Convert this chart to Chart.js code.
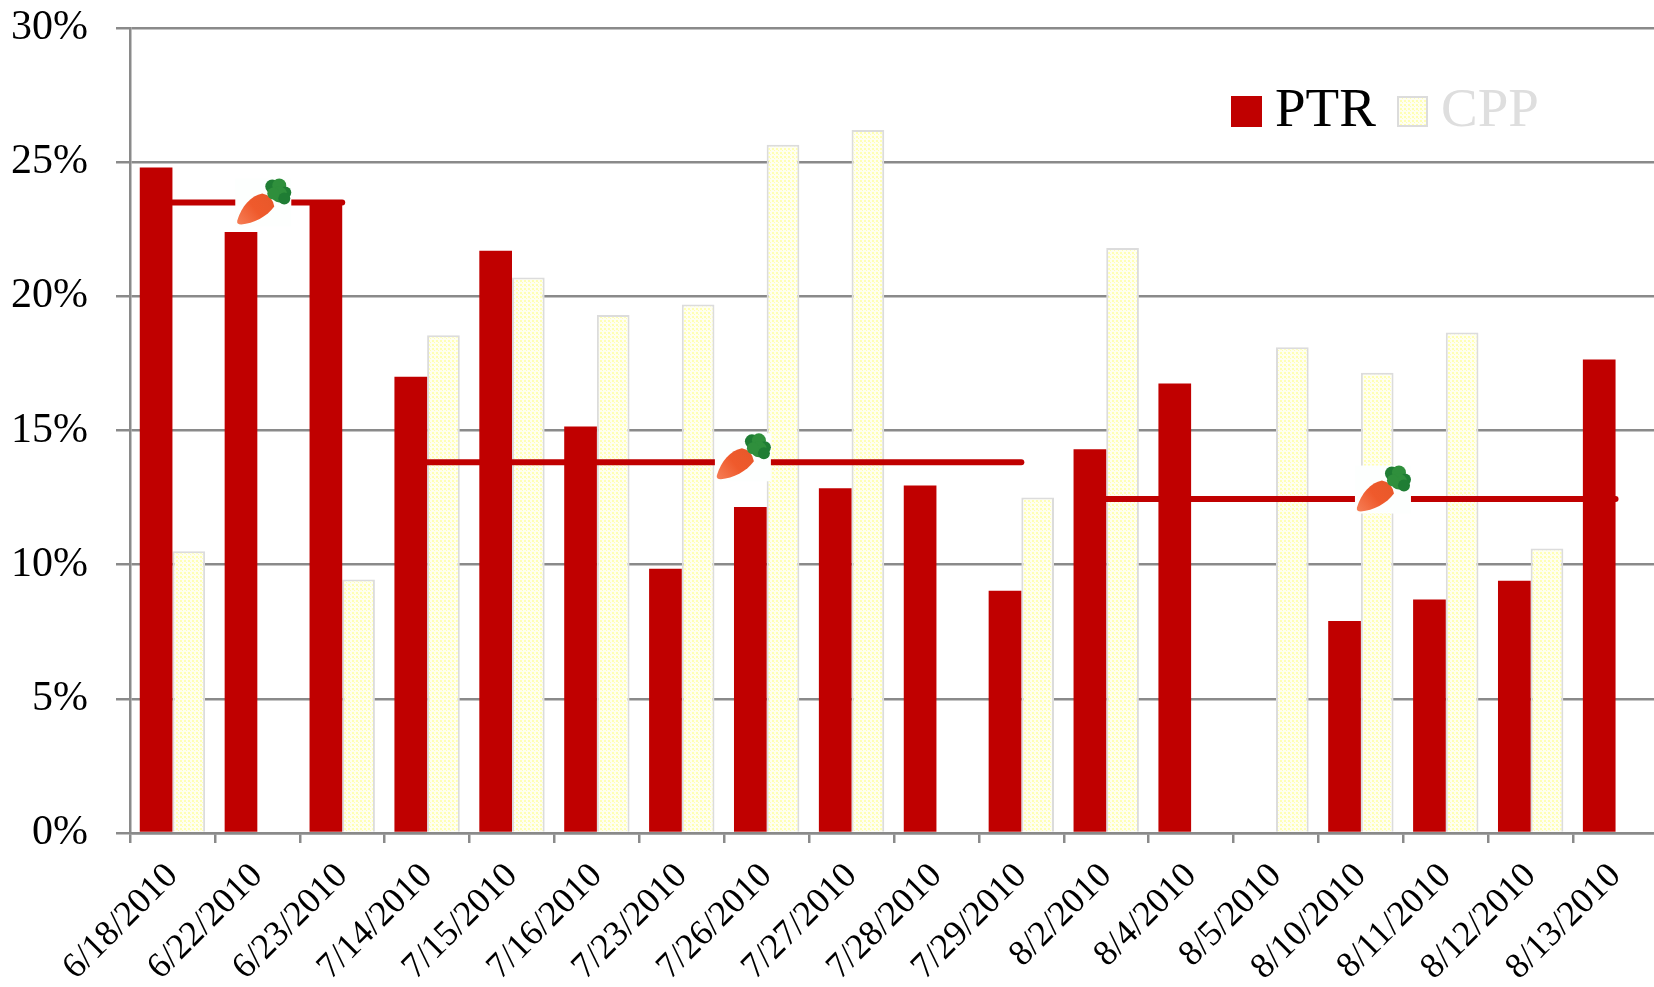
<!DOCTYPE html>
<html>
<head>
<meta charset="utf-8">
<title>PTR CPP</title>
<script src="https://cdn.jsdelivr.net/npm/chart.js@4/dist/chart.umd.min.js"></script>
<style>
	html, body { margin: 0; padding: 0; background: #fff; overflow: hidden; }
	canvas { display: block; }
</style>
</head>
<body>
<canvas id="_canvasc" width="1658" height="987"></canvas>
<script>
	// ******************************************************** DATA

	var dates = ["6/18/2010","6/22/2010","6/23/2010","7/14/2010","7/15/2010","7/16/2010","7/23/2010","7/26/2010","7/27/2010","7/28/2010","7/29/2010","8/2/2010","8/4/2010","8/5/2010","8/10/2010","8/11/2010","8/12/2010","8/13/2010"];
	var ptr = [24.8,22.4,23.4,17.0,21.7,15.15,9.85,12.15,12.85,12.95,9.03,14.3,16.75,null,7.9,8.7,9.4,17.65];
	var cpp = [10.5,null,9.45,18.55,20.7,19.3,19.7,25.65,26.2,null,12.5,21.8,null,18.1,17.15,18.65,10.6,null];
	var avgFirst  = [23.5,23.5,23.5,null,null,null,null,null,null,null,null,null,null,null,null,null,null,null];
	var avgSecond = [null,null,null,13.82,13.82,13.82,13.82,13.82,13.82,13.82,13.82,null,null,null,null,null,null,null];
	var avgThird  = [null,null,null,null,null,null,null,null,null,null,null,12.45,12.45,12.45,12.45,12.45,12.45,12.45];
	var yTicks = [0,5,10,15,20,25,30];

	// carrots sit on the average lines: category position, value
	var carrotCats = [1.07,6.72,14.26];
	var carrotVals = [23.5,14.0,12.8];

	// ******************************************************** STYLE

	var RED = "#c00000";
	var GREY = "#8a8a8a";
	var SERIF = "'Liberation Serif', serif";

	function dotPattern() {
		var t = document.createElement("canvas");
		t.width = 4; t.height = 4;
		var c = t.getContext("2d");
		c.fillStyle = "#fffff0";
		c.fillRect(0, 0, 4, 4);
		c.fillStyle = "#ffffb4";
		c.fillRect(0, 0, 2, 2);
		c.fillRect(2, 2, 1, 1);
		return c.createPattern(t, "repeat");
	}
	var cppFill = dotPattern();

	// ******************************************************** PLUGINS

	function drawCarrot(c, x, y) {
		c.save();
		c.translate(x - 28, y - 24);
		c.fillStyle = "#fdfffe";
		c.fillRect(0, 0, 56, 48);
		var g = c.createLinearGradient(4, 44, 36, 18);
		g.addColorStop(0, "#f57a52");
		g.addColorStop(0.5, "#ef5a2c");
		g.addColorStop(1, "#e8582a");
		c.fillStyle = g;
		c.beginPath();
		c.moveTo(2, 42);
		c.bezierCurveTo(6, 28, 16, 17, 27, 15);
		c.quadraticCurveTo(37, 17, 39, 28);
		c.bezierCurveTo(32, 38, 18, 45, 6, 46);
		c.quadraticCurveTo(1, 46, 2, 42);
		c.fill();
		var leaves = [[37,8,7],[44,7,7],[50,14,6],[44,16,8],[49,20,6],[38,15,6]];
		leaves.forEach(function (l, i) {
			c.fillStyle = i % 2 ? "#2f8f3c" : "#1f7d34";
			c.beginPath();
			c.arc(l[0], l[1], l[2], 0, Math.PI * 2);
			c.fill();
		});
		c.restore();
	}

	var carrotPlugin = {
		id: "carrots",
		afterDatasetsDraw: function (chart) {
			var xs = chart.scales.x, ys = chart.scales.y;
			carrotCats.forEach(function (cat, i) {
				drawCarrot(chart.ctx, xs.getPixelForValue(cat), ys.getPixelForValue(carrotVals[i]));
			});
		}
	};

	var legendPlugin = {
		id: "cornerLegend",
		afterDraw: function (chart) {
			var c = chart.ctx;
			var items = [
				{ text: "PTR", x: 1231, fill: RED, line: RED, color: "#000" },
				{ text: "CPP", x: 1397, fill: cppFill, line: "#dcdcdc", color: "#dedede" }
			];
			c.save();
			c.font = "55px " + SERIF;
			c.textBaseline = "alphabetic";
			items.forEach(function (it) {
				c.fillStyle = it.fill;
				c.fillRect(it.x, 96, 31, 31);
				c.strokeStyle = it.line;
				c.lineWidth = 2;
				c.strokeRect(it.x + 1, 97, 29, 29);
				c.fillStyle = it.color;
				c.fillText(it.text, it.x + 44, 126);
			});
			c.restore();
		}
	};

	// ******************************************************** CHART

	var _ctxc = document.getElementById("_canvasc").getContext("2d");

	function lineSet(data) {
		return {
			type: "line", data: data, order: 0,
			borderColor: RED, borderWidth: 6, borderCapStyle: "round",
			pointRadius: 0, spanGaps: false, fill: false
		};
	}

	window.myChart = new Chart(_ctxc, {
		type: "bar",
		data: {
			labels: dates,
			datasets: [
				{ label: "PTR", data: ptr, backgroundColor: RED, order: 1, categoryPercentage: 0.77, barPercentage: 1 },
				{ label: "CPP", data: cpp, backgroundColor: cppFill, borderColor: "#dcdcdc", borderWidth: 2, order: 1, categoryPercentage: 0.77, barPercentage: 1 },
				lineSet(avgFirst),
				lineSet(avgSecond),
				lineSet(avgThird)
			]
		},
		options: {
			responsive: false,
			animation: false,
			layout: { padding: { top: 28, right: 0, left: 0, bottom: 0 } },
			plugins: {
				legend: { display: false },
				title: { display: false },
				tooltip: { enabled: false }
			},
			scales: {
				x: {
					afterFit: function (s) { s.height = 154; s.paddingRight = 0; s.paddingLeft = 0; s.paddingTop = 0; s.paddingBottom = 0; },
					grid: { drawOnChartArea: false, color: GREY, lineWidth: 2.5, tickLength: 10 },
					border: { color: GREY, width: 2.5 },
					ticks: {
						autoSkip: false, minRotation: 45, maxRotation: 45, padding: 12,
						color: "#000", font: { family: SERIF, size: 36 }
					}
				},
				y: {
					min: 0, max: 30,
					afterFit: function (s) { s.width = 130; s.paddingTop = 0; s.paddingBottom = 0; },
					afterBuildTicks: function (s) { s.ticks = yTicks.map(function (v) { return { value: v }; }); },
					grid: { color: GREY, lineWidth: 2.5, tickLength: 14 },
					border: { color: GREY, width: 2.5 },
					ticks: {
						padding: 28, color: "#000", font: { family: SERIF, size: 42 },
						callback: function (v) { return v + "%"; }
					}
				}
			}
		},
		plugins: [carrotPlugin, legendPlugin]
	});
</script>
</body>
</html>
